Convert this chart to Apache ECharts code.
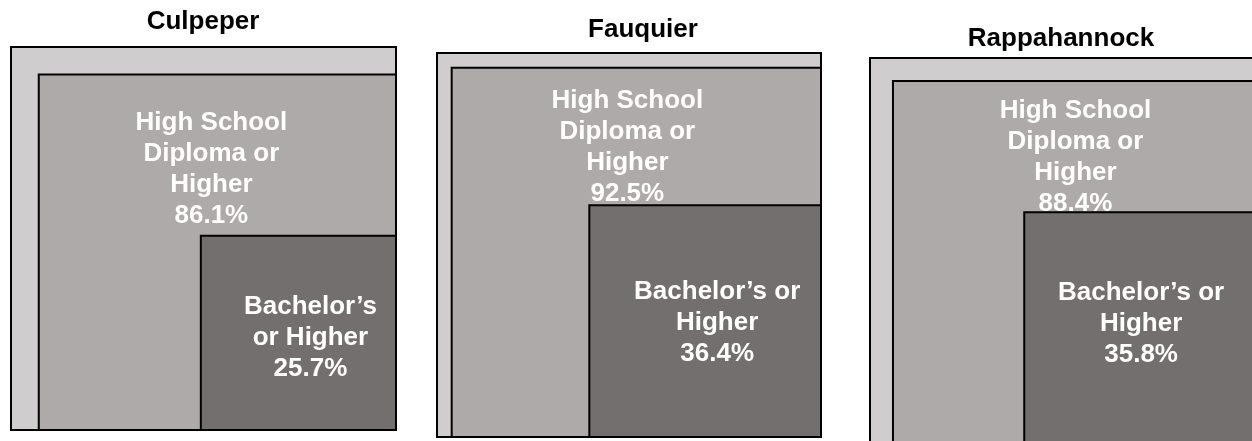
<!DOCTYPE html>
<html>
<head>
<meta charset="utf-8">
<script src="https://cdn.jsdelivr.net/npm/echarts@6/dist/echarts.min.js"></script>
<style>
html,body{margin:0;padding:0;background:#fff;}
#chart{width:1252px;height:441px;}
</style>
</head>
<body>
<div id="chart"></div>
<script>
// ---- data ----
const counties = ['Culpeper', 'Fauquier', 'Rappahannock'];
const totalPct = [100, 100, 100];
const highSchoolPct = [86.1, 92.5, 88.4];
const bachelorPct = [25.7, 36.4, 35.8];
const highSchoolText = ['High School\nDiploma or\nHigher', 'High School\nDiploma or\nHigher', 'High School\nDiploma or\nHigher'];
const bachelorText = ['Bachelor\u2019s\nor Higher', 'Bachelor\u2019s or\nHigher', 'Bachelor\u2019s or\nHigher'];

// ---- layout / style ----
const panels = [
  { left: 11, top: 47, width: 385, height: 383, titleX: 203, titleY: 9,  hsDx: -6, hsDy: 14, baDx: 12, baDy: 5 },
  { left: 437, top: 53, width: 384, height: 384, titleX: 643, titleY: 17, hsDx: -9, hsDy: 11, baDx: 12, baDy: 2 },
  { left: 870, top: 58, width: 384, height: 384, titleX: 1061, titleY: 26, hsDx: 2, hsDy: 11, baDx: 2,  baDy: -3 }
];
const fills = ['#cfcdce', '#aeaaa9', '#736f6e'];
const FONT = '"Liberation Sans", Arial, sans-serif';
const FS = 26, LH = 31;

const grids = [], xAxes = [], yAxes = [], series = [], titles = [];

counties.forEach((name, i) => {
  const p = panels[i];
  grids.push({ left: p.left, top: p.top, width: p.width, height: p.height, containLabel: false, outerBoundsMode: 'none' });
  xAxes.push({ type: 'value', gridIndex: i, min: 0, max: 1, show: false });
  yAxes.push({ type: 'value', gridIndex: i, min: 0, max: 1, show: false });
  titles.push({
    text: name, left: p.titleX, top: p.titleY, textAlign: 'center', padding: 0,
    textStyle: { fontFamily: FONT, fontWeight: 'bold', fontSize: FS, color: '#000' }
  });
  const levels = [totalPct[i], highSchoolPct[i], bachelorPct[i]];
  series.push({
    type: 'custom',
    xAxisIndex: i, yAxisIndex: i,
    data: levels.map((v, k) => [v, k]),
    clip: false,
    animation: false,
    renderItem: function (params, api) {
      const pct = api.value(0);
      const k = api.value(1);
      const s = Math.sqrt(pct / 100);
      const tl = api.coord([1 - s, s]);
      const br = api.coord([1, 0]);
      const children = [{
        type: 'rect',
        shape: { x: tl[0], y: tl[1], width: br[0] - tl[0], height: br[1] - tl[1] },
        style: { fill: fills[k], stroke: '#000', lineWidth: 2 },
        z2: k * 2
      }];
      if (k === 1) {
        const sb = Math.sqrt(bachelorPct[i] / 100);
        const bTop = api.coord([1 - sb, sb])[1];
        children.push({
          type: 'text',
          style: {
            text: highSchoolText[i] + '\n' + pct.toFixed(1) + '%',
            x: (tl[0] + br[0]) / 2 + p.hsDx,
            y: (tl[1] + bTop) / 2 + p.hsDy,
            align: 'center', verticalAlign: 'middle',
            fill: '#fff', font: 'bold ' + FS + 'px ' + FONT, lineHeight: LH
          },
          z2: 3
        });
      } else if (k === 2) {
        children.push({
          type: 'text',
          style: {
            text: bachelorText[i] + '\n' + pct.toFixed(1) + '%',
            x: (tl[0] + br[0]) / 2 + p.baDx,
            y: (tl[1] + br[1]) / 2 + p.baDy,
            align: 'center', verticalAlign: 'middle',
            fill: '#fff', font: 'bold ' + FS + 'px ' + FONT, lineHeight: LH
          },
          z2: 5
        });
      }
      return { type: 'group', children: children };
    }
  });
});

const chart = echarts.init(document.getElementById('chart'), null, { renderer: 'canvas' });
chart.setOption({
  animation: false,
  backgroundColor: '#fff',
  title: titles,
  grid: grids,
  xAxis: xAxes,
  yAxis: yAxes,
  series: series
});
</script>
</body>
</html>
